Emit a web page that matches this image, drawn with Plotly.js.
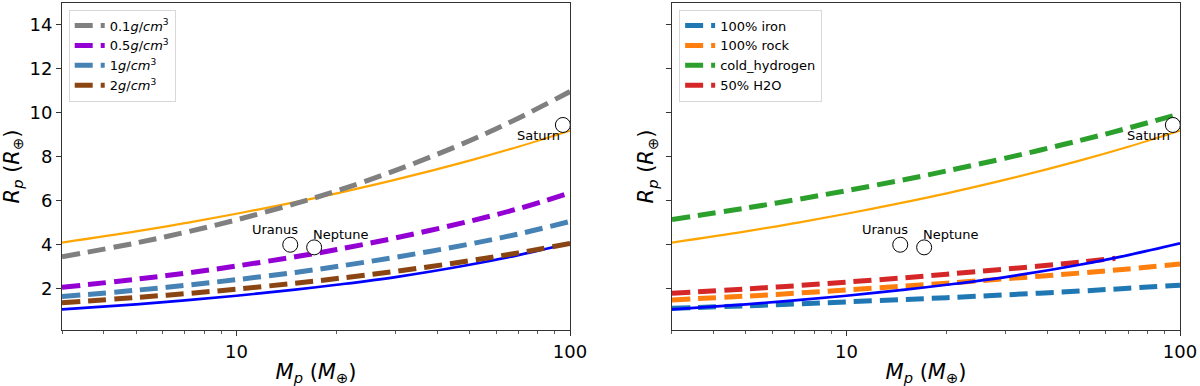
<!DOCTYPE html>
<html>
<head>
<meta charset="utf-8">
<script src="https://cdn.plot.ly/plotly-3.0.1.min.js"></script>
<style>html,body{margin:0;padding:0;background:#fff;}#chart{width:1200px;height:386px;}</style>
</head>
<body>
<div id="chart"></div>
<script>
// ---- data ----
var mass = [3, 5, 7, 10, 15, 20, 30, 50, 70, 100];
var massH2O = [3, 5, 7, 10, 15, 20, 30, 50, 64];

var orangeSolid = [4.10, 4.61, 4.98, 5.41, 5.94, 6.34, 6.96, 7.83, 8.46, 9.19];
var blueSolid   = [1.06, 1.29, 1.47, 1.68, 1.96, 2.18, 2.53, 3.09, 3.53, 4.06];

var densityNames = ['0.1<i>g</i>/<i>cm</i><sup>3</sup>', '0.5<i>g</i>/<i>cm</i><sup>3</sup>', '1<i>g</i>/<i>cm</i><sup>3</sup>', '2<i>g</i>/<i>cm</i><sup>3</sup>'];
var dens01 = [3.45, 4.08, 4.56, 5.13, 5.87, 6.45, 7.38, 8.73, 9.76, 10.97];
var dens05 = [2.06, 2.43, 2.70, 3.03, 3.45, 3.78, 4.31, 5.07, 5.64, 6.36];
var dens1  = [1.64, 1.93, 2.15, 2.41, 2.74, 3.01, 3.43, 4.03, 4.49, 5.06];
var dens2  = [1.36, 1.60, 1.77, 1.98, 2.25, 2.46, 2.79, 3.27, 3.63, 4.06];

var compNames = ['100% iron', '100% rock', 'cold_hydrogen', '50% H2O'];
var iron   = [1.11, 1.22, 1.30, 1.40, 1.51, 1.59, 1.72, 1.89, 2.02, 2.16];
var rock   = [1.49, 1.66, 1.79, 1.94, 2.12, 2.25, 2.45, 2.71, 2.90, 3.12];
var coldH  = [5.15, 5.67, 6.04, 6.46, 6.97, 7.36, 7.94, 8.74, 9.31, 9.96];
var h2o50  = [1.79, 1.99, 2.13, 2.30, 2.50, 2.66, 2.89, 3.21, 3.38];

var planetNames  = ['Uranus', 'Neptune', 'Saturn'];
var planetMass   = [14.5, 17.1, 95.2];
var planetRadius = [4.0, 3.88, 9.45];

var xTickVals = [10, 100];
var xTickText = ['10', '100'];
var yTickVals = [2, 4, 6, 8, 10, 12, 14];
var minorVals = [3, 4, 5, 6, 7, 8, 9, 20, 30, 40, 50, 60, 70, 80, 90];

// ---- styles ----
var FONT = 'DejaVu Sans, sans-serif';
var dash = '18px,8px';
var dashW = 5;

function dashed(x, y, name, color, xa, ya, leg) {
  return {x: x, y: y, name: name, type: 'scatter', mode: 'lines', xaxis: xa, yaxis: ya,
    line: {color: color, width: dashW, dash: dash, shape: 'spline'}, legend: leg, showlegend: true};
}
function solid(x, y, color, w, xa, ya) {
  return {x: x, y: y, type: 'scatter', mode: 'lines', xaxis: xa, yaxis: ya, showlegend: false,
    line: {color: color, width: w, shape: 'spline'}, hoverinfo: 'skip'};
}
function planets(xa, ya) {
  return {x: planetMass, y: planetRadius, type: 'scatter', mode: 'markers', xaxis: xa, yaxis: ya,
    showlegend: false, marker: {symbol: 'circle', size: 15, color: 'white', line: {color: 'black', width: 1}}};
}

var traces = [
  solid(mass, orangeSolid, 'orange', 2.2, 'x', 'y'),
  solid(mass, blueSolid, 'blue', 2.7, 'x', 'y'),
  dashed(mass, dens01, densityNames[0], 'gray', 'x', 'y', 'legend'),
  dashed(mass, dens05, densityNames[1], 'darkviolet', 'x', 'y', 'legend'),
  dashed(mass, dens1, densityNames[2], 'steelblue', 'x', 'y', 'legend'),
  dashed(mass, dens2, densityNames[3], 'saddlebrown', 'x', 'y', 'legend'),
  planets('x', 'y'),
  dashed(mass, iron, compNames[0], '#1f77b4', 'x2', 'y2', 'legend2'),
  dashed(mass, rock, compNames[1], '#ff7f0e', 'x2', 'y2', 'legend2'),
  dashed(mass, coldH, compNames[2], '#2ca02c', 'x2', 'y2', 'legend2'),
  dashed(massH2O, h2o50, compNames[3], '#d62728', 'x2', 'y2', 'legend2'),
  solid(mass, orangeSolid, 'orange', 2.2, 'x2', 'y2'),
  solid(mass, blueSolid, 'blue', 2.7, 'x2', 'y2'),
  planets('x2', 'y2')
];

var offsets = [[-15, 15], [27, 13], [-24, -11]];
var annotations = [];
['x', 'x2'].forEach(function (xa, k) {
  var ya = k === 0 ? 'y' : 'y2';
  planetNames.forEach(function (n, i) {
    annotations.push({x: Math.log10(planetMass[i]), y: planetRadius[i], xref: xa, yref: ya, text: n,
      showarrow: false, xshift: offsets[i][0], yshift: offsets[i][1],
      font: {family: FONT, size: 13, color: 'black'}});
  });
});

var axisColor = '#333';
function xaxis(domain, anchor) {
  return {type: 'log', domain: domain, anchor: anchor, range: [Math.log10(3), 2],
    tickvals: xTickVals, ticktext: xTickText, ticks: 'outside', ticklen: 5, tickwidth: 1, tickcolor: axisColor,
    minor: {tickvals: minorVals, ticks: 'outside', ticklen: 3, tickwidth: 0.8, tickcolor: axisColor, showgrid: false},
    showline: true, linecolor: axisColor, linewidth: 1, mirror: true, showgrid: false, zeroline: false,
    tickfont: {family: FONT, size: 18, color: 'black'},
    title: {text: '<i>M<sub>p</sub></i> (<i>M</i><sub>⊕</sub>)', font: {family: FONT, size: 21, color: 'black'}, standoff: 7}};
}
function yaxis(anchor, labels) {
  return {domain: [0, 1], anchor: anchor, range: [0.12, 15], tickvals: yTickVals, showticklabels: labels,
    ticks: 'outside', ticklen: 5, tickwidth: 1, tickcolor: axisColor,
    showline: true, linecolor: axisColor, linewidth: 1, mirror: true, showgrid: false, zeroline: false,
    tickfont: {family: FONT, size: 18, color: 'black'},
    title: {text: '<i>R<sub>p</sub></i> (<i>R</i><sub>⊕</sub>)', font: {family: FONT, size: 21, color: 'black'}, standoff: labels ? 6 : 6}};
}

var legendStyle = {bgcolor: 'rgba(255,255,255,0.9)', bordercolor: '#d8d8d8', borderwidth: 1,
  font: {family: FONT, size: 13, color: 'black'}, xanchor: 'left', yanchor: 'top', tracegroupgap: 0, itemwidth: 30};

var layout = {
  width: 1200, height: 386,
  margin: {l: 62, r: 20, t: 3, b: 56},
  paper_bgcolor: 'white', plot_bgcolor: 'white',
  font: {family: FONT},
  showlegend: true,
  xaxis: xaxis([0, 0.4544], 'y'),
  yaxis: yaxis('x', true),
  xaxis2: xaxis([0.5456, 1], 'y2'),
  yaxis2: yaxis('x2', false),
  legend: Object.assign({x: 0.006, y: 0.98}, legendStyle),
  legend2: Object.assign({x: 0.552, y: 0.98}, legendStyle),
  annotations: annotations
};

Plotly.newPlot('chart', traces, layout, {displayModeBar: false, staticPlot: true});
</script>
</body>
</html>
